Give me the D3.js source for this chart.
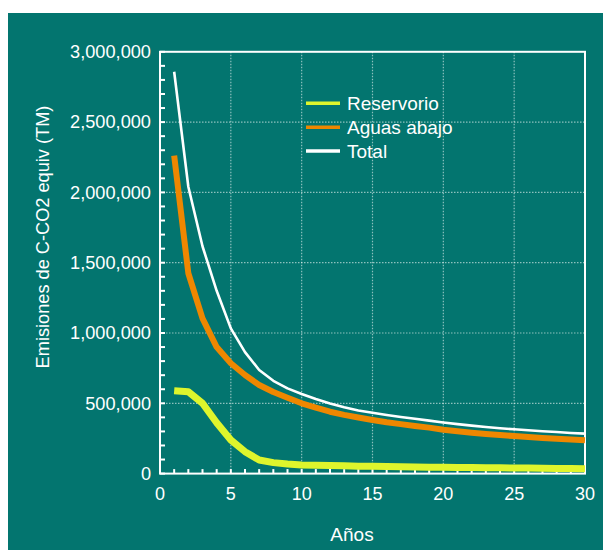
<!DOCTYPE html>
<html><head><meta charset="utf-8">
<script src="https://cdn.jsdelivr.net/npm/d3@7"></script>
<style>html,body{margin:0;padding:0;background:#fff;}svg{display:block;}</style>
</head><body>
<svg id="c" width="603" height="550"></svg>
<script>
const years = d3.range(1, 31);
const reservorio = [590000,582000,500000,362000,239000,156000,97000,78000,68000,62000,
  59000,57000,55000,53000,52000,50000,49000,47000,46000,45000,
  44000,43000,42000,41000,40000,39000,38000,37000,36000,35000];
const aguasAbajo = [2262000,1425000,1104000,900000,785000,701000,630000,580000,540000,500000,
  469000,440000,418000,399000,381000,365000,352000,339000,327000,312000,
  301000,291000,282000,274000,267000,261000,254000,248000,242000,237000];
const total = [2858000,2040000,1617000,1300000,1033000,864000,737000,660000,606000,566000,
  530000,499000,472000,449000,433000,417000,403000,390000,377000,364000,
  352000,341000,332000,323000,315000,308000,301000,296000,289000,284000];
const seriesNames = ["Reservorio", "Aguas abajo", "Total"];
const xTicks = [0, 5, 10, 15, 20, 25, 30];
const yTicks = [0, 500000, 1000000, 1500000, 2000000, 2500000, 3000000];
const xTitle = "Años";
const yTitle = "Emisiones de C-CO2 equiv (TM)";

const svg = d3.select("#c");
const font = "'Liberation Sans', Arial, sans-serif";
svg.append("rect").attr("x", 8).attr("y", 13).attr("width", 595).attr("height", 537).attr("fill", "#03756f");

const L = 160, R = 585, T = 51.8, B = 473.6;
const x = d3.scaleLinear().domain([0, 30]).range([L, R]);
const y = d3.scaleLinear().domain([0, 3000000]).range([B, T]);

const g = svg.append("g");
// grid
g.selectAll(".vg").data(xTicks.filter(d => d > 0 && d < 30)).enter().append("line")
  .attr("x1", d => x(d)).attr("x2", d => x(d)).attr("y1", T).attr("y2", B)
  .attr("stroke", "#ffffff").attr("stroke-opacity", 0.55).attr("stroke-width", 1.2).attr("stroke-dasharray", "1.5,1.5");
g.selectAll(".hg").data(yTicks.filter(d => d > 0 && d < 3000000)).enter().append("line")
  .attr("x1", L).attr("x2", R).attr("y1", d => y(d)).attr("y2", d => y(d))
  .attr("stroke", "#ffffff").attr("stroke-opacity", 0.55).attr("stroke-width", 1.2).attr("stroke-dasharray", "1.5,1.5");

// minor ticks
g.selectAll(".xt").data(d3.range(0, 31)).enter().append("line")
  .attr("x1", d => x(d)).attr("x2", d => x(d)).attr("y1", B).attr("y2", B - 4.5)
  .attr("stroke", "#fff").attr("stroke-width", 2);
g.selectAll(".yt").data(d3.range(0, 3000001, 100000)).enter().append("line")
  .attr("x1", L).attr("x2", L + 5).attr("y1", d => y(d)).attr("y2", d => y(d))
  .attr("stroke", "#fff").attr("stroke-width", 2);

// frame
g.append("rect").attr("x", L).attr("y", T).attr("width", R - L).attr("height", B - T)
  .attr("fill", "none").attr("stroke", "#fff").attr("stroke-width", 2);

// tick labels
g.selectAll(".xl").data(xTicks).enter().append("text")
  .attr("x", d => x(d)).attr("y", 500).attr("text-anchor", "middle")
  .attr("font-family", font).attr("font-size", 18).attr("fill", "#fff").text(d => d);
const fmt = d3.format(",");
g.selectAll(".yl").data(yTicks).enter().append("text")
  .attr("x", 151).attr("y", d => y(d) + 6.3).attr("text-anchor", "end")
  .attr("font-family", font).attr("font-size", 18.2).attr("fill", "#fff").text(d => fmt(d));

// titles
svg.append("text").attr("x", 352).attr("y", 541).attr("text-anchor", "middle")
  .attr("font-family", font).attr("font-size", 19).attr("fill", "#fff").text(xTitle);
svg.append("text").attr("transform", "translate(48.5,237) rotate(-90)").attr("text-anchor", "middle")
  .attr("font-family", font).attr("font-size", 18.2).attr("fill", "#fff").text(yTitle);

// lines
const line = d3.line().x((d, i) => x(years[i])).y(d => y(d));
const series = [
  {name: seriesNames[0], values: reservorio, color: "#dff52c", w: 7},
  {name: seriesNames[1], values: aguasAbajo, color: "#ee8700", w: 6},
  {name: seriesNames[2], values: total, color: "#ffffff", w: 2.6}
];
series.forEach(s => {
  g.append("path").datum(s.values).attr("d", line).attr("fill", "none")
    .attr("stroke", s.color).attr("stroke-width", s.w).attr("stroke-linejoin", "round");
});

// legend
const legY = [103.3, 127.3, 151];
series.forEach((s, i) => {
  svg.append("line").attr("x1", 306).attr("x2", 340).attr("y1", legY[i]).attr("y2", legY[i])
    .attr("stroke", s.color).attr("stroke-width", 3.5);
  svg.append("text").attr("x", 347).attr("y", legY[i] + 6.5).attr("font-family", font)
    .attr("font-size", 19).attr("fill", "#fff").text(s.name);
});
</script>
</body></html>
